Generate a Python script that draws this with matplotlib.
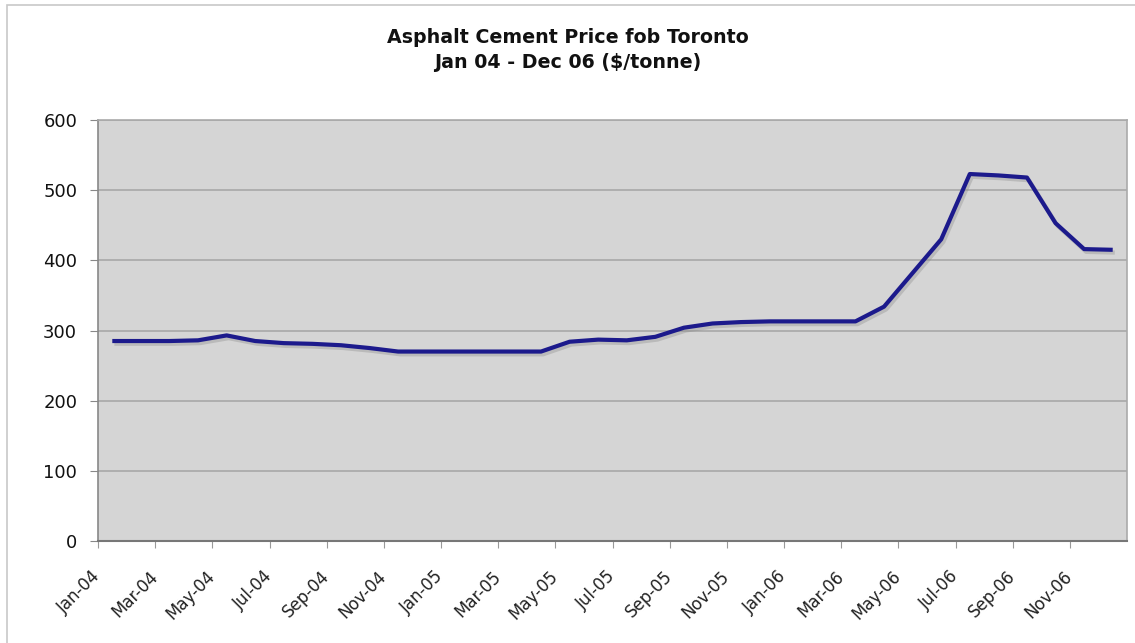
import matplotlib
matplotlib.use("Agg")
import matplotlib.pyplot as plt
import matplotlib.patheffects as pe
from matplotlib.patches import Rectangle

months = ["Jan-04","Feb-04","Mar-04","Apr-04","May-04","Jun-04","Jul-04","Aug-04","Sep-04","Oct-04","Nov-04","Dec-04",
          "Jan-05","Feb-05","Mar-05","Apr-05","May-05","Jun-05","Jul-05","Aug-05","Sep-05","Oct-05","Nov-05","Dec-05",
          "Jan-06","Feb-06","Mar-06","Apr-06","May-06","Jun-06","Jul-06","Aug-06","Sep-06","Oct-06","Nov-06","Dec-06"]
prices = [285, 285, 285, 286, 293, 285, 282, 281, 279, 275, 270, 270,
          270, 270, 270, 270, 284, 287, 286, 291, 304, 310, 312, 313,
          313, 313, 313, 334, 382, 430, 523, 521, 518, 453, 416, 415]
tick_labels = months[::2]
yticks = [0, 100, 200, 300, 400, 500, 600]

fig = plt.figure(figsize=(11.35, 6.43), dpi=100)
fig.patch.set_facecolor("white")
fig.add_artist(Rectangle((7/1135, -0.05), 1.2, 1 - 5/643 + 0.05, transform=fig.transFigure,
                         fill=False, edgecolor="#c8c8c8", linewidth=1.2))

ax = fig.add_axes([98/1135, 1 - 541/643, (1127 - 98)/1135, (541 - 120)/643])
ax.set_facecolor("#d5d5d5")

x = [i + 0.5 for i in range(len(months))]
ax.plot(x, prices, color="#1c1a8c", linewidth=3, solid_joinstyle="round", solid_capstyle="butt",
        path_effects=[pe.SimpleLineShadow(offset=(1.5, -2), shadow_color="#888888", alpha=0.35),
                      pe.Normal()], zorder=3)

ax.set_xlim(0, 36)
ax.set_ylim(0, 600)
ax.set_yticks(yticks)
ax.set_yticklabels([str(v) for v in yticks], fontsize=13, color="#111111")
ax.set_xticks(list(range(0, 36, 2)))
ax.set_xticklabels(tick_labels, rotation=45, ha="right", va="center", rotation_mode="anchor",
                   fontsize=12, color="#222222")
ax.tick_params(axis="x", length=5, color="#999999", pad=18.5)
ax.tick_params(axis="y", length=6, color="#888888", pad=9)
ax.grid(axis="y", color="#a8a8a8", linewidth=1.2)
ax.set_axisbelow(True)
for side in ["top", "right"]:
    ax.spines[side].set_color("#aaaaaa")
    ax.spines[side].set_linewidth(1.2)
ax.spines["left"].set_color("#888888")
ax.spines["bottom"].set_color("#777777")
ax.spines["left"].set_linewidth(1.2)
ax.spines["bottom"].set_linewidth(1.5)

fig.text(0.5, 1 - 43/643, "Asphalt Cement Price fob Toronto", ha="center", va="baseline",
         fontsize=13.7, fontweight="bold", color="#111111")
fig.text(0.5, 1 - 68/643, "Jan 04 - Dec 06 ($/tonne)", ha="center", va="baseline",
         fontsize=13.7, fontweight="bold", color="#111111")

fig.savefig("out.png", dpi=100)
